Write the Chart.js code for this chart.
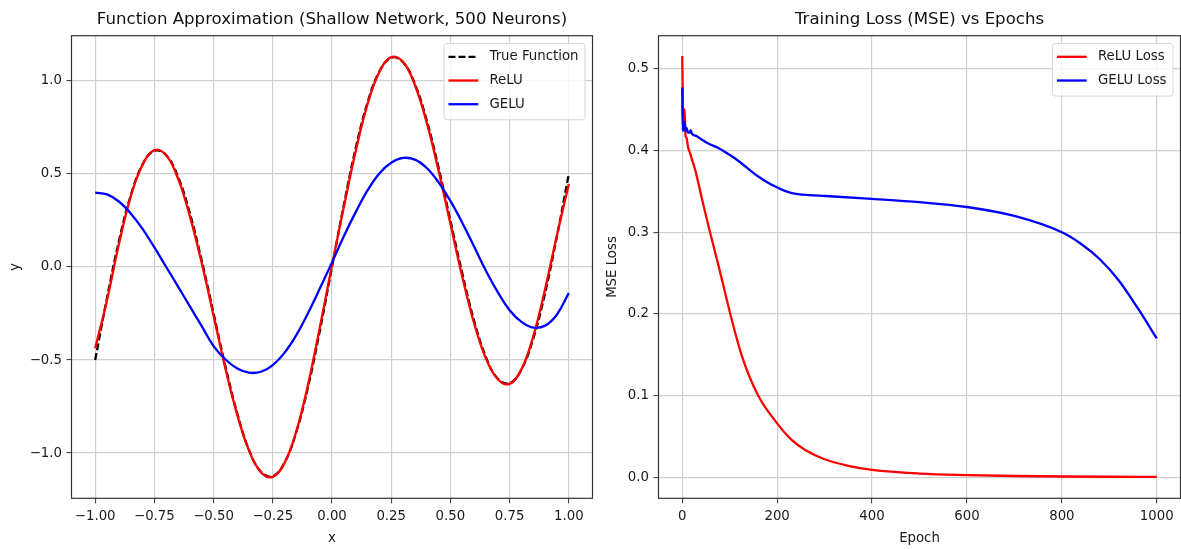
<!DOCTYPE html>
<html><head><meta charset="utf-8">
<script src="https://cdn.jsdelivr.net/npm/chart.js@4.4.1/dist/chart.umd.min.js"></script>
<style>
html,body{margin:0;padding:0;background:#fff;}
#wrap{position:relative;width:1181px;height:549px;overflow:hidden;background:#fff;}
#c1{position:absolute;left:0;top:0;}
#c2{position:absolute;left:600px;top:0;}
</style></head><body>
<div id="wrap"><canvas id="c1" width="600" height="549"></canvas><canvas id="c2" width="581" height="549"></canvas></div>
<script>
// ---- Left chart data: function approximation ----
const xValues = [-1.00,-0.95,-0.90,-0.85,-0.80,-0.75,-0.70,-0.65,-0.60,-0.55,-0.50,-0.45,-0.40,-0.35,-0.30,-0.25,-0.20,-0.15,-0.10,-0.05,0.00,0.05,0.10,0.15,0.20,0.25,0.30,0.35,0.40,0.45,0.50,0.55,0.60,0.65,0.70,0.75,0.80,0.85,0.90,0.95,1.00];
const trueFunction = [-0.500,-0.166,0.138,0.384,0.551,0.625,0.601,0.484,0.288,0.034,-0.250,-0.534,-0.788,-0.984,-1.101,-1.125,-1.051,-0.884,-0.638,-0.334,0.000,0.334,0.638,0.884,1.051,1.125,1.101,0.984,0.788,0.534,0.250,-0.034,-0.288,-0.484,-0.601,-0.625,-0.551,-0.384,-0.138,0.166,0.500];
const reluApprox = [-0.437,-0.178,0.122,0.378,0.550,0.628,0.600,0.475,0.272,0.020,-0.262,-0.545,-0.795,-0.988,-1.103,-1.128,-1.052,-0.880,-0.625,-0.315,0.010,0.322,0.622,0.875,1.048,1.128,1.103,0.978,0.776,0.518,0.232,-0.052,-0.302,-0.492,-0.603,-0.628,-0.550,-0.372,-0.118,0.172,0.446];
const geluApprox = [0.400,0.390,0.352,0.288,0.205,0.105,0.000,-0.105,-0.212,-0.318,-0.425,-0.497,-0.545,-0.568,-0.563,-0.527,-0.460,-0.365,-0.245,-0.112,0.025,0.165,0.295,0.412,0.503,0.560,0.586,0.577,0.532,0.455,0.355,0.238,0.110,-0.020,-0.135,-0.232,-0.295,-0.326,-0.315,-0.255,-0.140];
const approxXTicks = [-1.00,-0.75,-0.50,-0.25,0.00,0.25,0.50,0.75,1.00];
const approxYTicks = [-1.0,-0.5,0.0,0.5,1.0];

// ---- Right chart data: training loss ----
const reluEpochs = [0,1,2,3,5,7,9,12,17,20,28,42,56,77,100,126,160,200,230,260,300,350,400,500,600,700,800,900,1000];
const reluLoss = [0.516,0.470,0.425,0.440,0.451,0.418,0.416,0.405,0.396,0.390,0.375,0.340,0.306,0.258,0.203,0.148,0.100,0.066,0.046,0.033,0.022,0.014,0.009,0.0045,0.0026,0.0015,0.0009,0.0006,0.0005];
const geluEpochs = [0,1,2,3,5,7,9,12,15,18,20,25,30,40,56,77,91,110,126,145,161,180,196,215,231,267,302,400,500,600,700,800,840,880,920,960,1000];
const geluLoss = [0.4775,0.4245,0.430,0.425,0.435,0.424,0.428,0.4225,0.422,0.425,0.421,0.419,0.418,0.414,0.4085,0.403,0.398,0.391,0.384,0.375,0.368,0.361,0.356,0.351,0.348,0.3455,0.3445,0.341,0.337,0.331,0.320,0.300,0.286,0.267,0.241,0.207,0.170];
const lossXTicks = [0,200,400,600,800,1000];
const lossYTicks = [0.0,0.1,0.2,0.3,0.4,0.5];

const FAMILY = '"DejaVu Sans", sans-serif';
Chart.defaults.font.family = FAMILY;
const TICK_FONT = {family: FAMILY, size: 13.3};
const TEXT_COLOR = '#1a1a1a';
const LINE_W = 2.3;

function pts(xs, ys){ return xs.map((x,i)=>({x:x, y:ys[i]})); }
function fmt(v, d){ return Number(v).toFixed(d).replace('-', '\u2212'); }

const framePlugin = {
  id: 'frameLegend',
  afterDraw(chart){
    const ctx = chart.ctx, ca = chart.chartArea;
    ctx.save();
    ctx.strokeStyle = '#333';
    ctx.lineWidth = 1.2;
    ctx.strokeRect(ca.left, ca.top, ca.right - ca.left, ca.bottom - ca.top);
    // legend box, inside upper right
    ctx.font = '13.3px ' + FAMILY;
    const items = chart.data.datasets;
    const textW = Math.max.apply(null, items.map(d => ctx.measureText(d.label).width));
    const w = 45.5 + textW + 6.5;
    const rowH = 23.7;
    const h = items.length * rowH + 5.3;
    const x0 = ca.right - 7.5 - w, y0 = ca.top + 7.7;
    ctx.beginPath();
    ctx.roundRect(x0, y0, w, h, 3);
    ctx.fillStyle = 'rgba(255,255,255,0.8)';
    ctx.fill();
    ctx.strokeStyle = '#d5d5d5';
    ctx.lineWidth = 1;
    ctx.stroke();
    items.forEach((d, i) => {
      const y = y0 + 13.4 + i * rowH;
      ctx.beginPath();
      ctx.strokeStyle = d.borderColor;
      ctx.lineWidth = d.borderWidth;
      ctx.setLineDash(d.borderDash || []);
      ctx.moveTo(x0 + 4.5, y);
      ctx.lineTo(x0 + 34.3, y);
      ctx.stroke();
      ctx.setLineDash([]);
      ctx.fillStyle = TEXT_COLOR;
      ctx.textBaseline = 'middle';
      ctx.textAlign = 'left';
      ctx.fillText(d.label, x0 + 45.5, y);
    });
    ctx.restore();
  }
};

function gridOpts(){
  return {color: '#d0d0d0', lineWidth: 1.2, tickLength: 5, tickColor: '#333', tickWidth: 1};
}

function makeOptions(cfg){
  return {
    responsive: false,
    animation: false,
    events: [],
    layout: {padding: {left: 0, right: cfg.padRight, top: 0, bottom: 0}},
    plugins: {
      legend: {display: false},
      tooltip: {enabled: false},
      title: {
        display: true, text: cfg.title, fullSize: false,
        color: '#111', font: {family: FAMILY, size: 16.6, weight: 'normal', lineHeight: 1.2},
        padding: {top: 10, bottom: 5.8}
      }
    },
    scales: {
      x: {
        type: 'linear', min: cfg.xMin, max: cfg.xMax,
        afterBuildTicks: s => { s.ticks = cfg.xTicks.map(v => ({value: v})); },
        afterFit: s => { s.height = 50.7; },
        ticks: {callback: v => fmt(v, cfg.xDec), font: TICK_FONT, color: TEXT_COLOR, padding: 5, maxRotation: 0, autoSkip: false},
        grid: gridOpts(),
        border: {display: false},
        title: {display: true, text: cfg.xTitle, color: TEXT_COLOR, font: {family: FAMILY, size: 13.3}, padding: {top: 0, bottom: 2}}
      },
      y: {
        type: 'linear', min: cfg.yMin, max: cfg.yMax,
        afterBuildTicks: s => { s.ticks = cfg.yTicks.map(v => ({value: v})); },
        afterFit: s => { s.width = cfg.yWidth; },
        ticks: {callback: v => fmt(v, 1), font: TICK_FONT, color: TEXT_COLOR, padding: 4.5, autoSkip: false},
        grid: gridOpts(),
        border: {display: false},
        title: {display: true, text: cfg.yTitle, color: TEXT_COLOR, font: {family: FAMILY, size: 13.3}, padding: {top: cfg.yTitlePad, bottom: 0}}
      }
    }
  };
}

new Chart(document.getElementById('c1'), {
  type: 'line',
  data: {
    datasets: [
      {label: 'True Function', data: pts(xValues, trueFunction), borderColor: '#000000', borderWidth: LINE_W, borderDash: [7, 3], pointRadius: 0, tension: 0.4, order: 3},
      {label: 'ReLU', data: pts(xValues, reluApprox), borderColor: '#ff0000', borderWidth: LINE_W, pointRadius: 0, tension: 0.4, order: 2},
      {label: 'GELU', data: pts(xValues, geluApprox), borderColor: '#0000ff', borderWidth: LINE_W, pointRadius: 0, tension: 0.4, order: 1}
    ]
  },
  options: makeOptions({
    title: 'Function Approximation (Shallow Network, 500 Neurons)',
    xMin: -1.1, xMax: 1.1, xTicks: approxXTicks, xDec: 2, xTitle: 'x',
    yMin: -1.243, yMax: 1.243, yTicks: approxYTicks, yTitle: 'y',
    yWidth: 71.5, padRight: 7.5, yTitlePad: 8
  }),
  plugins: [framePlugin]
});

new Chart(document.getElementById('c2'), {
  type: 'line',
  data: {
    datasets: [
      {label: 'ReLU Loss', data: pts(reluEpochs, reluLoss), borderColor: '#ff0000', borderWidth: LINE_W, pointRadius: 0, cubicInterpolationMode: 'monotone', order: 2},
      {label: 'GELU Loss', data: pts(geluEpochs, geluLoss), borderColor: '#0000ff', borderWidth: LINE_W, pointRadius: 0, cubicInterpolationMode: 'monotone', order: 1}
    ]
  },
  options: makeOptions({
    title: 'Training Loss (MSE) vs Epochs',
    xMin: -50, xMax: 1050, xTicks: lossXTicks, xDec: 0, xTitle: 'Epoch',
    yMin: -0.0258, yMax: 0.5408, yTicks: lossYTicks, yTitle: 'MSE Loss',
    yWidth: 58.5, padRight: 0.5, yTitlePad: 4.7
  }),
  plugins: [framePlugin]
});
</script>
</body></html>
